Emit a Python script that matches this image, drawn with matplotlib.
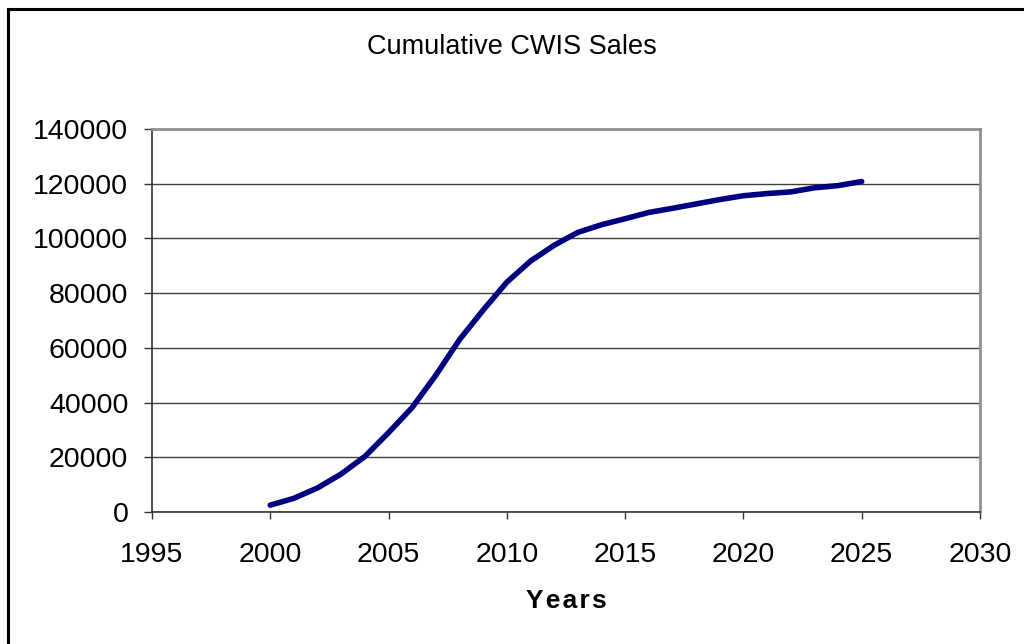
import matplotlib.pyplot as plt
from matplotlib.patches import Rectangle

# Vendas acumuladas por ano
ANOS = list(range(2000, 2026))
VENDAS = [
    2500, 5000, 8800, 13900, 20300, 29000, 38200, 50000, 63000, 73800,
    84000, 91700, 97500, 102200, 105000, 107200, 109500, 111000, 112600,
    114200, 115600, 116400, 117000, 118500, 119300, 120800,
]
XTICKS = [1995, 2000, 2005, 2010, 2015, 2020, 2025, 2030]
YTICKS = list(range(0, 140001, 20000))

plt.rcParams["font.family"] = ["Liberation Sans", "DejaVu Sans"]

fig = plt.figure(figsize=(10.24, 6.44), dpi=100)
ax = fig.add_axes([0.1484, 0.205, 0.8086, 0.5947])

ax.plot(ANOS, VENDAS, color="#000080", linewidth=4.0, solid_capstyle="round",
        solid_joinstyle="round", zorder=3)

ax.set_xlim(1995, 2030)
ax.set_ylim(0, 140000)
ax.set_xticks(XTICKS)
ax.set_yticks(YTICKS)
ax.tick_params(axis="both", labelsize=20.5, direction="out", width=1,
               color="#333333")
ax.tick_params(axis="y", length=5.5, pad=11.5)
ax.tick_params(axis="x", length=5, pad=16.5)
ax.grid(axis="y", color="#404040", linewidth=1)
ax.set_axisbelow(True)

for lado in ("top", "right"):
    ax.spines[lado].set_color("#909090")
    ax.spines[lado].set_linewidth(2)
for lado in ("left", "bottom"):
    ax.spines[lado].set_color("#333333")
    ax.spines[lado].set_linewidth(1.2)

fig.text(0.5, 0.927, "Cumulative CWIS Sales", ha="center", va="center",
         fontsize=19.5)
# rótulo do eixo x centrado na área do gráfico
ax.text(0.5, -0.232, "Y\u200ae\u200aa\u200ar\u200as", transform=ax.transAxes,
        ha="center", va="center", fontsize=19, fontweight="bold")

# moldura da figura
fig.patches.append(Rectangle((8 / 1024, -0.05), 1.1, 1 - 9 / 644 + 0.05,
                             transform=fig.transFigure, fill=False,
                             edgecolor="black", linewidth=2.2))

fig.savefig("out.png", dpi=100, facecolor="white")
